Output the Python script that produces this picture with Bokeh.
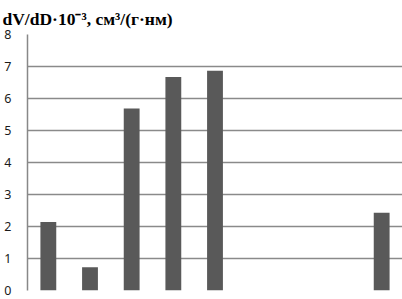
from bokeh.plotting import figure
from bokeh.models import Range1d, FactorRange
from bokeh.embed import file_html
from bokeh.resources import INLINE

categories = ["1", "2", "3", "4", "5", "6", "7", "8", "9"]
values = [2.14, 0.73, 5.69, 6.67, 6.87, float("nan"), float("nan"), float("nan"), 2.43]
y_ticks = [0, 1, 2, 3, 4, 5, 6, 7, 8]
title_text = "dV/dD\u00b710\u207b\u00b3, \u0441\u043c\u00b3/(\u0433\u00b7\u043d\u043c)"

p = figure(width=402, height=299, output_backend="svg", toolbar_location=None,
           x_range=FactorRange(*categories, range_padding=0, factor_padding=0),
           y_range=Range1d(0, 8), title=title_text)

p.vbar(x=categories, top=values, width=0.38, color="#595959", line_color=None)

p.title.text_font = "Liberation Serif"
p.title.text_font_style = "bold"
p.title.text_font_size = "17.5px"
p.title.text_color = "#000000"
p.title.offset = -25
p.title.standoff = 12

p.min_border_left = 27
p.min_border_right = 0
p.min_border_top = 34
p.min_border_bottom = 9
p.outline_line_color = None
p.background_fill_color = "white"
p.border_fill_color = "white"

p.xaxis.visible = False
p.xgrid.grid_line_color = None

p.yaxis.ticker = y_ticks
p.yaxis.major_tick_line_color = None
p.yaxis.minor_tick_line_color = None
p.yaxis.axis_line_color = "#888888"
p.yaxis.axis_line_width = 1.5
p.yaxis.major_label_text_font = "Noto Sans"
p.yaxis.major_label_text_font_size = "12.5px"
p.yaxis.major_label_text_color = "#1a1a1a"
p.yaxis.major_label_standoff = 10

p.ygrid.grid_line_color = "#8a8a8a"
p.ygrid.grid_line_width = 1.5

open("out.html", "w").write(file_html(p, INLINE))
